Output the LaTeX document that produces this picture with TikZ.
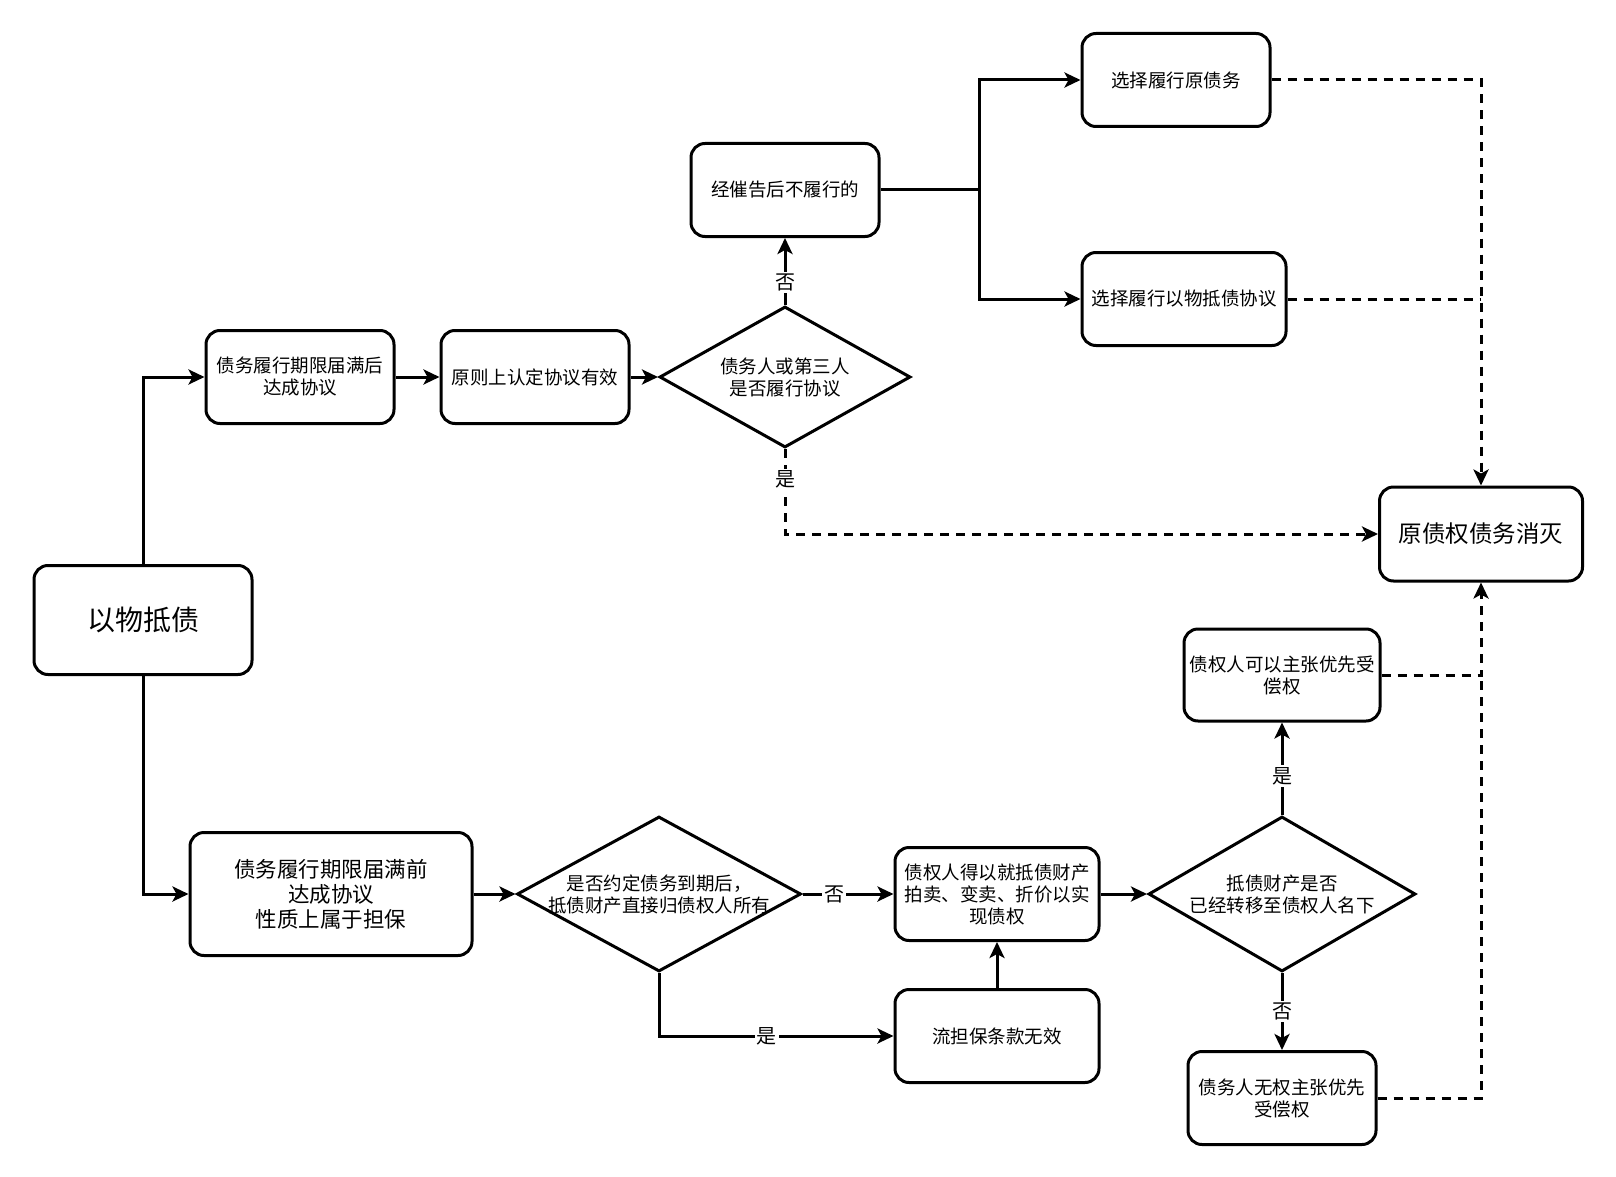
\documentclass[tikz,border=0pt]{standalone}
\usepackage{fontspec}
\setmainfont{Noto Sans CJK SC}
\usetikzlibrary{positioning, shapes.geometric, arrows.meta}

\begin{document}
\begin{tikzpicture}[
    x=1pt, y=-1pt,
    line width=3pt,
    font=\fontsize{18.5}{22}\selectfont,
    box/.style={rectangle, rounded corners=14pt, draw, fill=white, align=center, inner sep=2pt, minimum width=188pt, minimum height=93pt},
    decision/.style={diamond, draw, fill=white, inner sep=0pt},
    arrow/.style={-{Stealth[length=16pt, width=15pt, inset=4pt]}},
    link/.style={dash pattern=on 9pt off 7pt},
    dashedarrow/.style={arrow, link},
    tag/.style={fill=white, inner sep=2pt, font=\fontsize{20}{22}\selectfont}
]
    \useasboundingbox (0,0) rectangle (1616,1177);

    \node[box, font=\fontsize{28}{32}\selectfont, minimum width=218pt, minimum height=109pt] (root) at (143,620) {以物抵债};

    % upper branch
    \node[box] (after) at (300,377) {债务履行期限届满后\\达成协议};
    \node[box] (valid) at (535,377) {原则上认定协议有效};
    \node[decision, minimum width=251pt, minimum height=141pt, label={[align=center]center:{债务人或第三人\\是否履行协议}}] (perform) at (785,377) {};
    \node[box] (urged) at (785,190) {经催告后不履行的};
    \node[box] (orig) at (1176,80) {选择履行原债务};
    \node[box, minimum width=204pt] (keep) at (1184,299) {选择履行以物抵债协议};
    \node[box, font=\fontsize{23.5}{28}\selectfont, minimum width=203pt, minimum height=94pt] (done) at (1481,534) {原债权债务消灭};
    \coordinate (fork) at (979,190);

    % lower branch
    \node[box, font=\fontsize{21.5}{25}\selectfont, minimum width=282pt, minimum height=123pt] (before) at (331,894) {债务履行期限届满前\\达成协议\\性质上属于担保};
    \node[decision, minimum width=284pt, minimum height=155pt, label={[align=center]center:{是否约定债务到期后，\\抵债财产直接归债权人所有}}] (direct) at (659,894) {};
    \node[box, minimum width=204pt] (auction) at (997,894) {债权人得以就抵债财产\\拍卖、变卖、折价以实\\现债权};
    \node[box, minimum width=204pt] (void) at (997,1036) {流担保条款无效};
    \node[decision, minimum width=267pt, minimum height=155pt, label={[align=center]center:{抵债财产是否\\已经转移至债权人名下}}] (moved) at (1282,894) {};
    \node[box, minimum width=196pt, minimum height=92pt] (prior) at (1282,675) {债权人可以主张优先受\\偿权};
    \node[box] (noprior) at (1282,1098) {债务人无权主张优先\\受偿权};

    \draw[arrow] (root.north) |- (after.west);
    \draw[arrow] (root.south) |- (before.west);

    \draw[arrow] (after) -- (valid);
    \draw[arrow] (valid) -- (perform);
    \draw[arrow] (perform) -- node[tag, pos=0.34] {否} (urged);
    \draw (urged) -- (fork);
    \draw[arrow] (fork) |- (orig.west);
    \draw[arrow] (fork) |- (keep.west);
    \draw[dashedarrow] (orig.east) -| (done.north);
    \draw[link] (keep.east) -- (keep.east -| done.north);
    \draw[dashedarrow] (perform.south) |- node[tag, pos=0.18] {是} (done.west);

    \draw[arrow] (before) -- (direct);
    \draw[arrow] (direct) -- node[tag, pos=0.35] {否} (auction);
    \draw[arrow] (direct.south) |- node[tag, pos=0.73] {是} (void.west);
    \draw[arrow] (void) -- (auction);
    \draw[arrow] (auction) -- (moved);
    \draw[arrow] (moved) -- node[tag, pos=0.42] {是} (prior);
    \draw[arrow] (moved) -- node[tag, pos=0.5] {否} (noprior);
    \draw[dashedarrow] (prior.east) -| (done.south);
    \draw[link] (noprior.east) -| (prior.east -| done.south);
\end{tikzpicture}
\end{document}
